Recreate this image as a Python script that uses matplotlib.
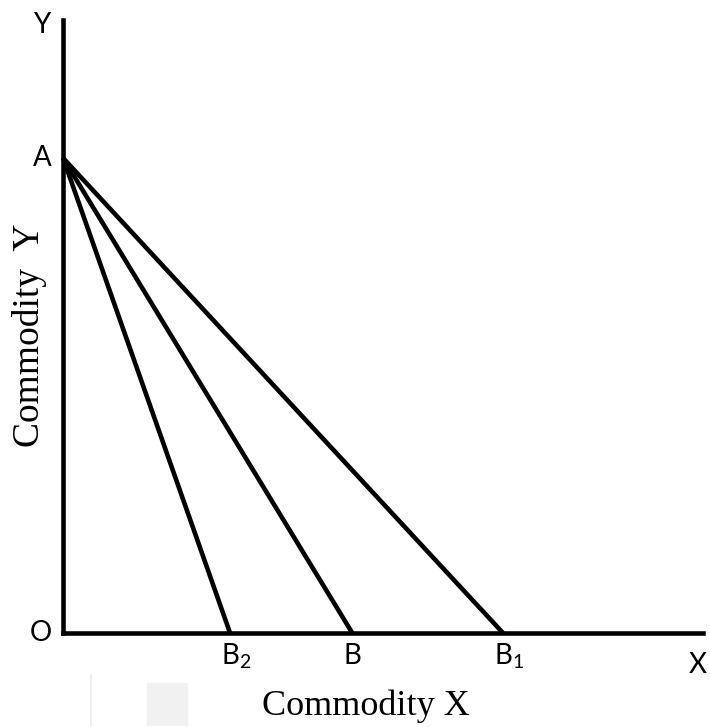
import matplotlib
matplotlib.use("Agg")
import matplotlib.pyplot as plt
from matplotlib.patches import Rectangle
from matplotlib.lines import Line2D

# budget lines: common Y intercept A, three X intercepts
a_y = 7.75
b_names = [r"$\mathregular{B_2}$", "B", r"$\mathregular{B_1}$"]
b_x = [2.61, 4.52, 6.875]

W, H = 710, 727
fig = plt.figure(figsize=(W / 100, H / 100), dpi=100)
ax = fig.add_axes([63 / W, (H - 633) / H, 640 / W, 613 / H])
ax.set_xlim(0, 10)
ax.set_ylim(0, 10)
for s in ["top", "right"]:
    ax.spines[s].set_visible(False)
for s in ["left", "bottom"]:
    ax.spines[s].set_linewidth(3.3)
    ax.spines[s].set_color("black")
ax.set_xticks([])
ax.set_yticks([])

for bx in b_x:
    ax.plot([0, bx], [a_y, 0], color="black", lw=3.3, solid_capstyle="butt", clip_on=False)

sans = "Lato"
serif = "Liberation Serif"
fs = 20
ax.text(-0.33, 9.92, "Y", fontsize=fs, family=sans, ha="center", va="center")
ax.text(-0.18, a_y, "A", fontsize=fs, family=sans, ha="right", va="center")
ax.text(-0.18, 0, "O", fontsize=fs, family=sans, ha="right", va="center")
ax.text(9.92, -0.52, "X", fontsize=fs, family=sans, ha="center", va="center")
for name, bx in zip(b_names, b_x):
    ax.text(bx - 0.14, -0.38, name, fontsize=fs, family=sans, ha="left", va="center")

ax.text(4.73, -1.2, "Commodity X", fontsize=26, family=serif, ha="center", va="center")
ax.text(-0.52, 4.85, "Commodity  Y", fontsize=27, family=serif, ha="center", va="center",
        rotation=90)

# faint scan artefacts below the axis
fig.patches.append(Rectangle((147 / W, 1 - 725 / H), 40 / W, 42 / H, transform=fig.transFigure,
                             color="#f1f1f1", zorder=0))
fig.lines.append(Line2D([91 / W, 91 / W], [1 - 675 / H, 0], transform=fig.transFigure,
                        color="#eeeeee", lw=1.5))

fig.savefig("out.png", dpi=100)
